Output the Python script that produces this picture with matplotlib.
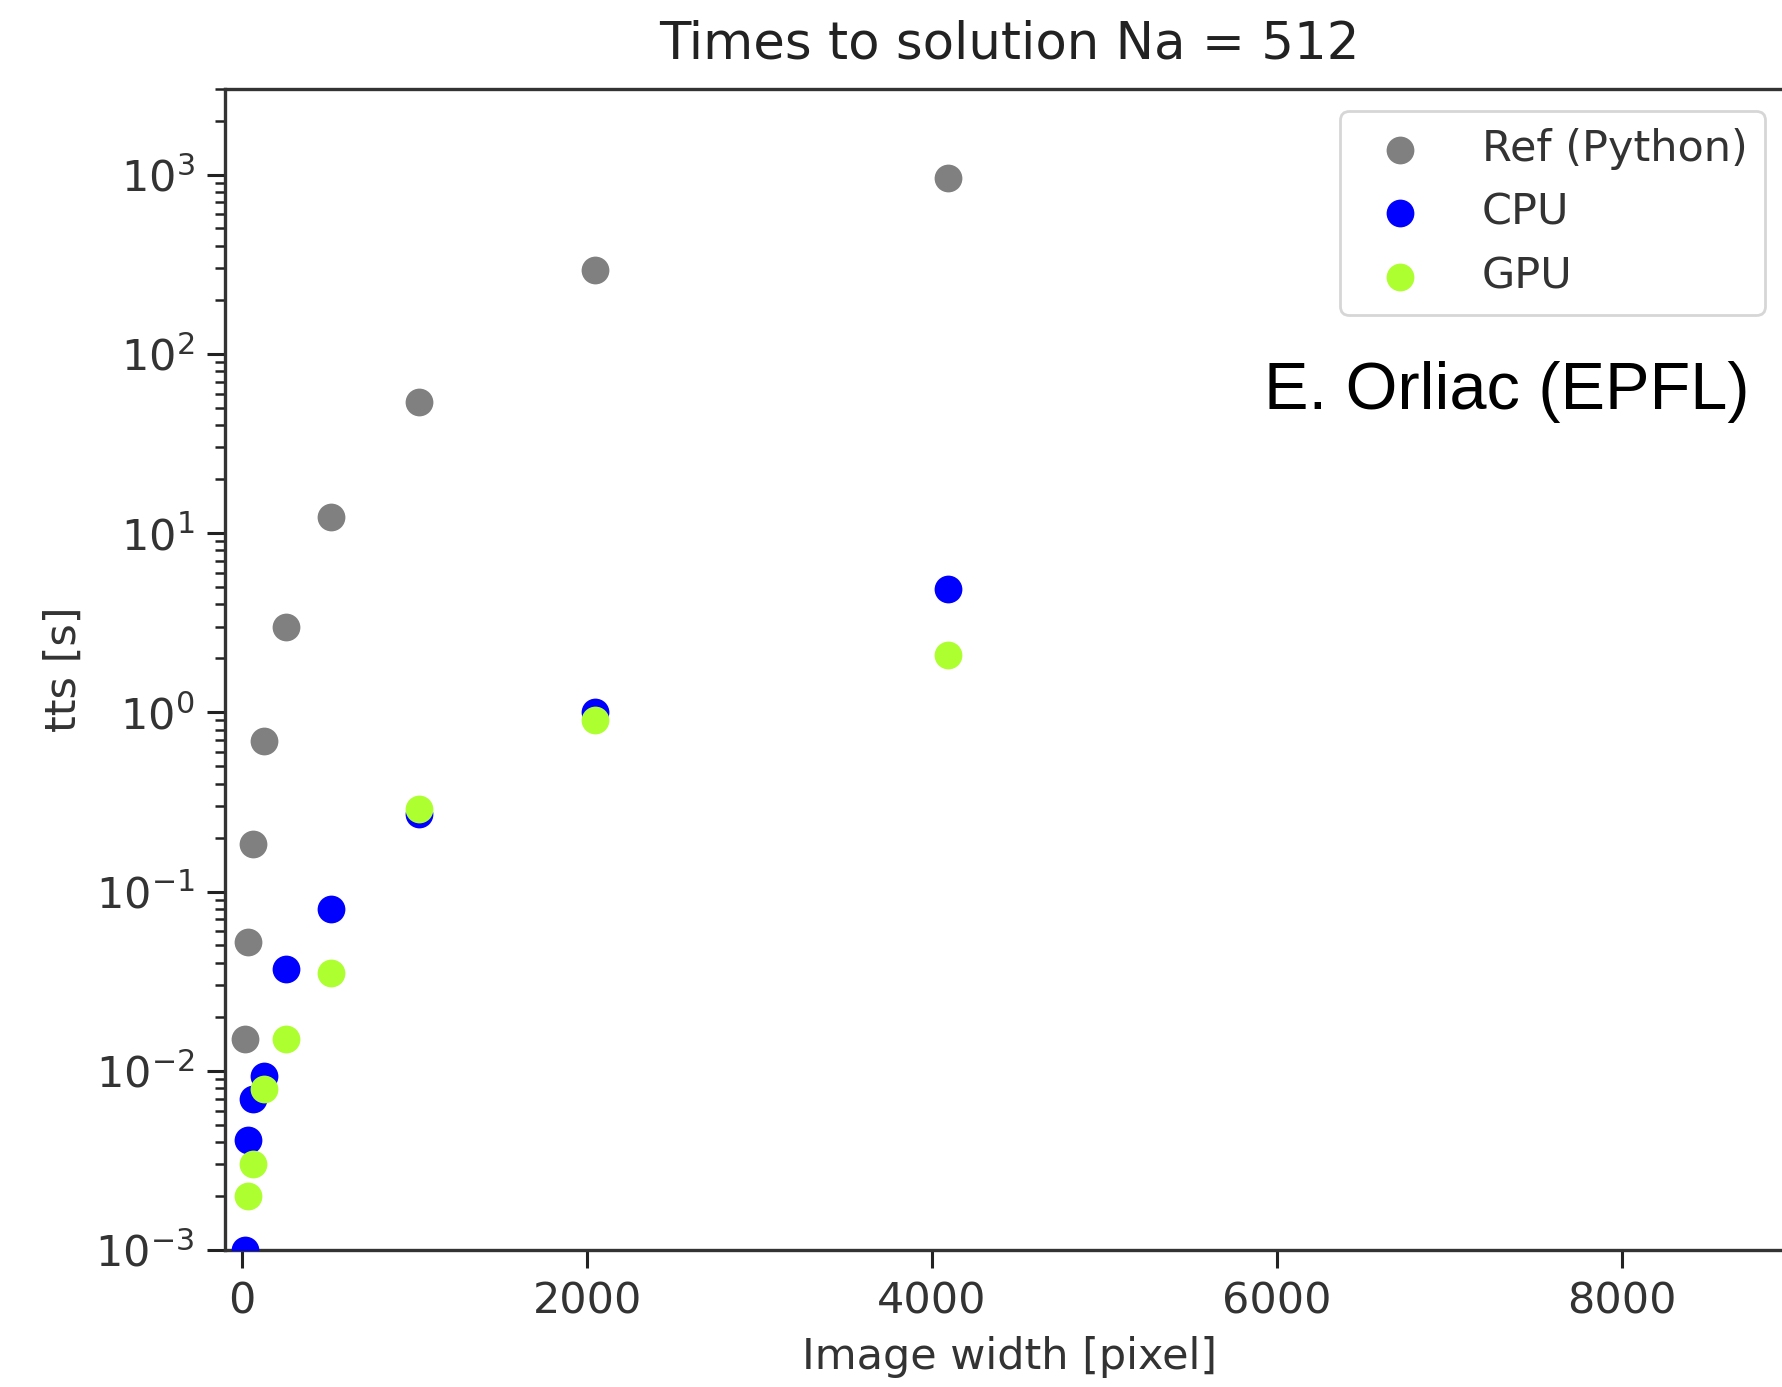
import matplotlib
matplotlib.use("Agg")
import matplotlib.pyplot as plt

# Data
width_px = [16, 32, 64, 128, 256, 512, 1024, 2048, 4096]
tts_ref = [0.015, 0.052, 0.185, 0.69, 3.0, 12.3, 54, 295, 960]
tts_cpu = [0.001, 0.0041, 0.0070, 0.0093, 0.037, 0.080, 0.27, 1.0, 4.9]
width_gpu = [32, 64, 128, 256, 512, 1024, 2048, 4096]
tts_gpu = [0.002, 0.003, 0.0079, 0.015, 0.035, 0.29, 0.90, 2.1]

W, H = 1782, 1387
fig = plt.figure(figsize=(W / 100, H / 100), dpi=100)
ax = fig.add_axes([225 / W, 1 - 1250 / H, 1569 / W, (1250 - 89) / H])

ms = 400
ax.scatter(width_px, tts_ref, s=ms, color="grey", label="Ref (Python)", zorder=3, linewidths=0)
ax.scatter(width_px, tts_cpu, s=ms, color="blue", label="CPU", zorder=3, linewidths=0)
ax.scatter(width_gpu, tts_gpu, s=ms, color="greenyellow", label="GPU", zorder=4, linewidths=0)

ax.set_yscale("log")
ax.set_xlim(-100, 9000)
ax.set_ylim(1e-3, 3000)
ax.set_xticks([0, 2000, 4000, 6000, 8000])

fs = 31
ax.tick_params(axis="both", which="major", labelsize=fs, length=13, width=2.2, pad=9,
               colors="#222222", labelcolor="#333333")
ax.tick_params(axis="y", which="minor", length=7, width=1.8, colors="#222222")
for sp in ax.spines.values():
    sp.set_linewidth(2.4)
    sp.set_color("#333333")

ax.set_title("Times to solution Na = 512", fontsize=37, color="#222222", pad=22)
ax.set_xlabel("Image width [pixel]", fontsize=fs, color="#333333", labelpad=10)
ax.set_ylabel("tts [s]", fontsize=fs, color="#333333", labelpad=8)

leg = ax.legend(loc="upper right", bbox_to_anchor=(1765 / W, 1 - 111 / H),
                bbox_transform=fig.transFigure, borderaxespad=0, fontsize=fs,
                markerscale=1.0, handletextpad=0.9, frameon=True)
leg.get_frame().set_edgecolor("#cccccc")
leg.get_frame().set_linewidth(2)
for t in leg.get_texts():
    t.set_color("#333333")

fig.text(1750 / W, 1 - 409 / H, "E. Orliac (EPFL)", fontsize=48,
         family="Liberation Sans", ha="right", va="baseline", color="black")

fig.savefig("out.png", dpi=100)
